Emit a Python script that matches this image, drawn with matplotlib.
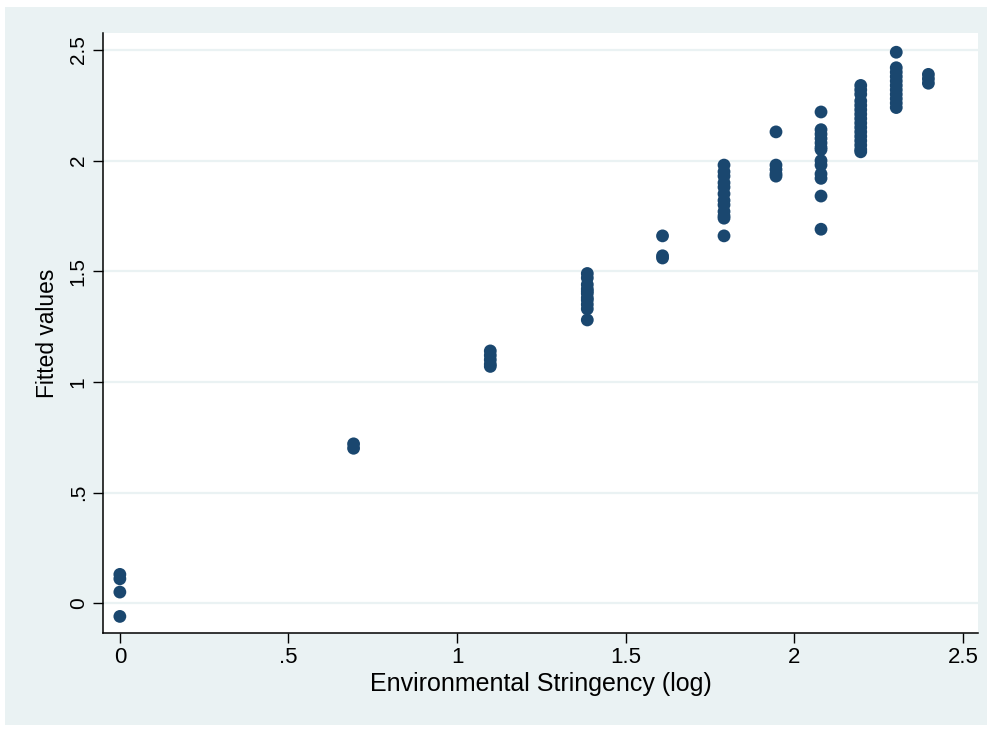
import numpy as np
import matplotlib.pyplot as plt
from matplotlib.patches import Rectangle

plt.rcParams['font.family'] = ['Liberation Sans', 'DejaVu Sans']

# log of stringency levels 1..11 and the fitted values stacked at each level
levels = [1, 2, 3, 4, 5, 6, 7, 8, 9, 10, 11]
fitted = {
    1: [0.13, 0.11, 0.05, -0.06],
    2: [0.72, 0.70],
    3: [1.14, 1.12, 1.10, 1.08, 1.07],
    4: [1.49, 1.47, 1.44, 1.42, 1.41, 1.40, 1.38, 1.37, 1.35, 1.33, 1.28],
    5: [1.66, 1.57, 1.56],
    6: [1.98, 1.95, 1.93, 1.90, 1.88, 1.85, 1.82, 1.80, 1.77, 1.75, 1.74, 1.66],
    7: [2.13, 1.98, 1.96, 1.94, 1.93],
    8: [2.22, 2.14, 2.12, 2.10, 2.08, 2.06, 2.05, 2.00, 1.98, 1.94, 1.92, 1.84, 1.69],
    9: [2.34, 2.32, 2.30, 2.27, 2.25, 2.23, 2.21, 2.19, 2.17, 2.15, 2.13, 2.11,
        2.09, 2.07, 2.05, 2.04],
    10: [2.49, 2.42, 2.40, 2.38, 2.36, 2.34, 2.32, 2.30, 2.28, 2.26, 2.24],
    11: [2.39, 2.37, 2.35],
}
ticks = [0, 0.5, 1, 1.5, 2, 2.5]
tick_labels = ["0", ".5", "1", "1.5", "2", "2.5"]

xs = np.concatenate([np.full(len(fitted[k]), np.log(k)) for k in levels])
ys = np.concatenate([fitted[k] for k in levels])

bg = "#EAF2F3"
navy = "#1A476F"

fig = plt.figure(figsize=(9.92, 7.29), dpi=100)
fig.patch.set_facecolor("white")
fig.patches.append(Rectangle((5 / 992, 4 / 729), 982 / 992, 718 / 729,
                             transform=fig.transFigure, facecolor=bg,
                             edgecolor="none", zorder=-10))

ax = fig.add_axes([103 / 992, 1 - 633 / 729, 875 / 992, 600 / 729])
ax.set_facecolor("white")
ax.scatter(xs, ys, s=85, color=navy, edgecolors="none", zorder=3)

ax.set_xlim(-0.05, 2.545)
ax.set_ylim(-0.135, 2.577)
ax.set_xticks(ticks)
ax.set_xticklabels(tick_labels)
ax.set_yticks(ticks)
ax.set_yticklabels(tick_labels, rotation=90, va="center")
ax.tick_params(axis="both", length=7, width=1, color="black")
ax.tick_params(axis="x", labelsize=16, pad=3)
ax.tick_params(axis="y", labelsize=15, pad=4)

ax.grid(True, axis="y", color=bg, linewidth=1.6, zorder=0)
ax.set_axisbelow(True)
for side in ("top", "right"):
    ax.spines[side].set_visible(False)
for side in ("left", "bottom"):
    ax.spines[side].set_linewidth(1.1)

ax.set_xlabel("Environmental Stringency (log)", fontsize=18, labelpad=3)
ax.set_ylabel("Fitted values", fontsize=16.4, labelpad=7)

fig.savefig("out.png", dpi=100, facecolor=fig.get_facecolor())
